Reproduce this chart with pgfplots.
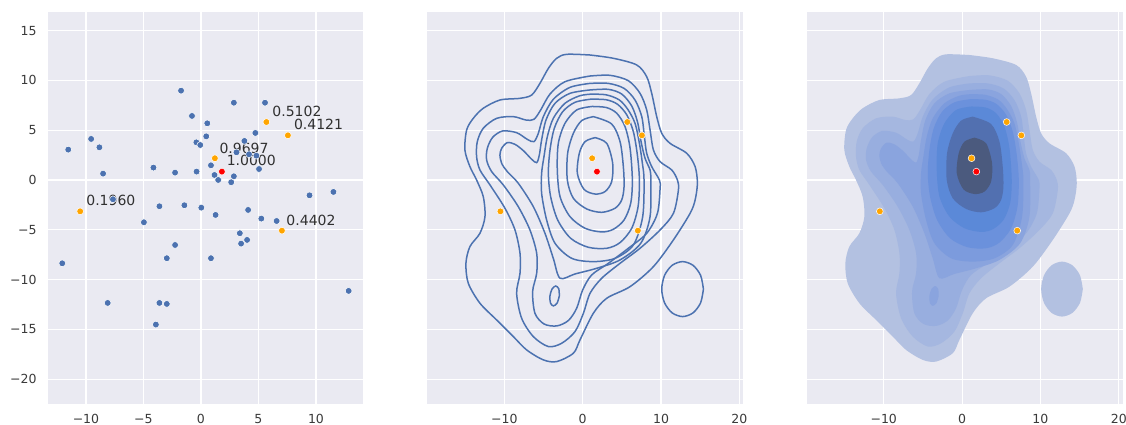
\documentclass[border=0pt]{standalone}
\usepackage{fontspec}
\setmainfont{DejaVu Sans}
\usepackage{pgfplots}
\usepackage{pgfplotstable}
\pgfplotsset{compat=1.18}
\definecolor{bg}{HTML}{EAEAF2}
\definecolor{sblue}{HTML}{4C72B0}
\definecolor{ticktext}{HTML}{3A3A3A}
\definecolor{labtext}{HTML}{303030}
\definecolor{orng}{HTML}{FFA500}
\definecolor{rd}{HTML}{FF0000}
\definecolor{Lone}{HTML}{B3C1E1}
\definecolor{Ltwo}{HTML}{A5B7E0}
\definecolor{Lthree}{HTML}{98AEDF}
\definecolor{Lfour}{HTML}{8AA4DE}
\definecolor{Lfive}{HTML}{7C9BDD}
\definecolor{Lsix}{HTML}{6B91DC}
\definecolor{Lseven}{HTML}{5B89D8}
\definecolor{Leight}{HTML}{5270B0}
\definecolor{Lnine}{HTML}{4B5A7E}

\pgfplotstableread{
x y
-1.73 8.97
2.86 7.76
5.57 7.76
-0.78 6.43
0.55 5.69
0.46 4.38
-9.55 4.12
-8.83 3.28
-11.54 3.05
-0.40 3.78
-0.06 3.51
4.73 4.72
3.78 3.92
3.09 2.78
4.18 2.58
4.82 2.44
5.05 1.10
0.87 1.47
-4.13 1.24
-8.51 0.64
-2.25 0.74
-0.38 0.84
1.18 0.50
1.50 0.00
2.86 0.37
2.63 -0.23
9.44 -1.54
11.52 -1.20
-3.61 -2.64
-1.44 -2.54
0.03 -2.78
1.27 -3.51
4.10 -3.01
5.25 -3.88
6.58 -4.12
-4.96 -4.25
3.38 -5.35
3.49 -6.39
4.01 -6.02
-2.25 -6.53
-2.97 -7.86
0.87 -7.86
-12.06 -8.37
12.84 -11.14
-8.11 -12.35
-3.61 -12.35
-2.97 -12.45
-3.92 -14.52
-7.65 -1.94
}\bluepts

\pgfplotstableread{
x y
5.69 5.82
7.56 4.48
1.21 2.18
-10.50 -3.15
7.04 -5.09
}\orangepts

\pgfplotstableread{
x y
1.82 0.84
}\redpts

% contour 1 (outermost)
\pgfplotstableread{
x y
0.94 12.55
3.92 12.22
6.90 11.55
8.17 10.37
8.81 8.70
9.45 6.36
10.09 4.69
11.15 3.68
13.28 2.68
14.35 1.34
14.64 -0.33
14.35 -2.01
13.71 -3.35
11.58 -6.02
9.03 -8.70
6.05 -10.71
3.07 -11.88
1.36 -13.39
-0.34 -16.06
-1.19 -17.40
-3.32 -18.24
-5.02 -18.07
-7.15 -17.07
-8.85 -15.73
-10.98 -14.06
-13.11 -12.38
-14.60 -10.37
-14.90 -8.37
-14.39 -6.69
-13.11 -5.35
-12.47 -3.68
-12.69 -1.67
-13.54 0.00
-14.39 1.34
-15.03 3.01
-14.81 5.02
-13.96 6.19
-12.69 7.20
-10.56 8.03
-8.00 8.20
-6.51 8.53
-5.45 9.71
-4.38 11.21
-3.32 12.22
-2.04 12.62
0.94 12.55
}\cA

\pgfplotstableread{
x y
15.41 -10.96
15.05 -9.58
14.08 -8.57
12.75 -8.20
11.42 -8.57
10.45 -9.58
10.09 -10.96
10.45 -12.34
11.42 -13.35
12.75 -13.72
14.08 -13.35
15.05 -12.34
15.41 -10.96
}\cAisland

\pgfplotstableread{
x y
0.94 10.44
3.49 10.51
5.83 9.97
7.32 8.70
8.17 7.03
8.60 5.02
9.03 3.01
9.88 1.84
11.37 1.00
12.09 0.00
12.22 -1.00
11.58 -3.35
9.88 -5.02
7.32 -6.86
4.77 -8.37
2.43 -9.87
0.94 -11.38
0.09 -13.39
-0.98 -15.23
-2.68 -16.40
-4.38 -16.73
-6.30 -15.73
-7.79 -13.89
-8.43 -11.38
-8.00 -9.37
-8.00 -7.36
-8.64 -5.02
-9.92 -2.84
-11.83 -0.50
-13.11 1.00
-13.54 2.34
-13.45 3.85
-12.69 5.19
-10.98 6.19
-8.85 6.36
-7.24 6.02
-6.22 6.09
-5.36 7.03
-4.17 8.63
-2.26 9.87
0.94 10.44
}\cB

\pgfplotstableread{
x y
0.94 9.70
3.28 9.70
5.28 9.20
6.68 8.03
7.54 6.36
7.88 4.35
8.17 2.68
8.81 1.34
9.79 0.00
9.88 -0.84
9.54 -3.35
8.17 -5.36
5.83 -6.86
3.28 -8.37
1.15 -9.54
0.00 -11.04
-0.77 -12.89
-1.83 -14.12
-3.32 -14.66
-4.94 -14.46
-6.09 -13.39
-6.39 -11.21
-5.87 -9.37
-5.87 -7.36
-6.73 -5.02
-8.22 -2.68
-10.13 -0.50
-11.62 0.84
-12.26 2.01
-12.17 3.18
-11.49 4.28
-10.22 4.92
-8.43 4.75
-7.07 4.08
-6.22 3.85
-5.66 4.69
-5.02 6.36
-3.75 8.10
-1.62 9.30
0.94 9.70
}\cC

\pgfplotstableread{
x y
0.94 9.04
3.28 9.10
4.98 8.63
6.26 7.43
7.02 5.76
7.45 3.85
7.96 2.18
8.60 1.00
8.69 0.00
8.60 -3.68
7.41 -6.36
4.77 -8.03
1.79 -8.87
-0.98 -9.44
-2.89 -9.87
-3.75 -7.87
-4.81 -5.36
-6.30 -2.68
-8.22 -0.33
-9.62 0.84
-10.34 1.67
-10.56 2.51
-10.34 3.18
-9.62 3.75
-8.64 3.58
-7.58 2.95
-6.51 2.08
-5.87 1.74
-5.53 2.51
-5.24 4.02
-4.68 6.02
-3.53 7.70
-1.62 8.70
0.94 9.04
}\cD

\pgfplotstableread{
x y
-2.98 -11.65
-3.05 -10.94
-3.43 -10.65
-3.90 -10.94
-4.18 -11.65
-4.11 -12.36
-3.73 -12.65
-3.26 -12.36
-2.98 -11.65
}\cDisland

\pgfplotstableread{
x y
1.10 8.62
3.00 8.55
4.65 8.05
5.75 7.10
6.68 5.69
7.24 3.68
7.62 1.67
7.83 0.00
7.66 -3.68
6.47 -6.53
4.13 -7.87
1.36 -8.20
-1.40 -7.87
-3.53 -6.36
-4.60 -4.02
-5.24 -1.34
-5.24 0.67
-4.94 2.34
-4.51 4.35
-3.75 6.19
-2.26 7.70
-0.40 8.45
1.10 8.62
}\cE

\pgfplotstableread{
x y
1.10 8.12
3.05 8.05
4.45 7.60
5.62 6.55
6.47 4.85
6.98 2.51
7.24 0.00
7.07 -2.68
6.26 -4.85
4.77 -6.29
3.07 -6.86
0.72 -6.76
-1.53 -5.86
-3.19 -4.02
-4.09 -1.67
-4.38 0.67
-4.17 3.01
-3.62 5.19
-2.55 6.86
-0.98 7.80
1.10 8.12
}\cF

\pgfplotstableread{
x y
1.20 7.38
3.00 7.28
4.35 6.70
5.41 5.35
6.05 3.18
6.34 0.00
6.13 -2.34
5.28 -4.02
3.92 -4.95
2.43 -5.22
0.30 -4.85
-1.62 -3.68
-2.89 -1.67
-3.24 1.00
-3.11 3.68
-2.26 5.69
-0.77 7.03
1.20 7.38
}\cG

\pgfplotstableread{
x y
1.36 6.36
3.70 5.62
4.77 3.85
5.19 1.34
5.28 -0.67
4.98 -2.01
4.13 -2.84
2.43 -3.25
0.51 -2.91
-1.19 -1.84
-1.96 0.00
-1.92 2.68
-1.19 4.69
-0.13 5.96
1.36 6.36
}\cH

\pgfplotstableread{
x y
1.58 4.25
3.07 3.68
3.83 1.67
3.70 -0.17
2.85 -1.17
1.58 -1.41
0.17 -0.94
-0.68 0.67
-0.43 2.68
0.30 3.85
1.58 4.25
}\cI

\pgfplotsset{
  sbase/.style={
    scale only axis, width=316pt, height=392pt, anchor=south west,
    axis background/.style={fill=bg},
    axis line style={draw=none},
    grid=major, major grid style={white, line width=1.1pt},
    major tick length=0pt,
    tick label style={font=\fontsize{12.5}{14}\selectfont, text=ticktext},
    xticklabel style={yshift=-6.5pt},
    yticklabel style={xshift=-8pt},
    ymin=-22.5, ymax=16.87,
    ytick={-20,-15,-10,-5,0,5,10,15},
  },
  kde/.style={
    sbase, xmin=-19.83, xmax=20.5,
    xtick={-10,0,10,20}, xticklabels={−10,0,10,20},
    yticklabels={},
  },
  pt/.style={only marks, mark=*, mark size=3.4pt, mark options={fill=#1, draw=white, line width=0.5pt}},
  cl/.style={sblue, line width=1.5pt, smooth},
  cf/.style={fill=#1, draw=none, smooth},
}

\begin{document}
\begin{tikzpicture}
\useasboundingbox (0,0) rectangle (1126pt,425pt);

% ---------------- panel 1: scatter ----------------
\begin{axis}[sbase, at={(48pt,21pt)}, width=315pt,
  xmin=-13.3, xmax=14.09,
  xtick={-10,-5,0,5,10}, xticklabels={−10,−5,0,5,10},
  yticklabels={−20,−15,−10,−5,0,5,10,15}]
\addplot[pt=sblue] table {\bluepts};
\addplot[pt=orng] table {\orangepts};
\addplot[pt=rd] table {\redpts};
\begin{scope}[every node/.style={anchor=base west, inner sep=0pt, text=labtext, font=\fontsize{14}{16}\selectfont}]
\node at (axis cs:6.2,6.36) {0.5102};
\node at (axis cs:8.08,5.02) {0.4121};
\node at (axis cs:1.6,2.68) {0.9697};
\node at (axis cs:2.23,1.41) {1.0000};
\node at (axis cs:-9.98,-2.58) {0.1960};
\node at (axis cs:7.42,-4.55) {0.4402};
\end{scope}
\end{axis}

% ---------------- panel 2: contour lines ----------------
\begin{axis}[kde, at={(427.3pt,21pt)}]
\addplot[pt=orng] table {\orangepts};
\addplot[pt=rd] table {\redpts};
\addplot[cl] table {\cA};
\addplot[cl] table {\cAisland};
\addplot[cl] table {\cB};
\addplot[cl] table {\cC};
\addplot[cl] table {\cD};
\addplot[cl] table {\cDisland};
\addplot[cl] table {\cE};
\addplot[cl] table {\cF};
\addplot[cl] table {\cG};
\addplot[cl] table {\cH};
\addplot[cl] table {\cI};
\end{axis}

% ---------------- panel 3: filled contours ----------------
\begin{axis}[kde, at={(806.7pt,21pt)}]
\addplot[cf=Lone] table {\cA};
\addplot[cf=Lone] table {\cAisland};
\addplot[cf=Ltwo] table {\cB};
\addplot[cf=Lthree] table {\cC};
\addplot[cf=Lfour] table {\cD};
\addplot[cf=Lfour] table {\cDisland};
\addplot[cf=Lfive] table {\cE};
\addplot[cf=Lsix] table {\cF};
\addplot[cf=Lseven] table {\cG};
\addplot[cf=Leight] table {\cH};
\addplot[cf=Lnine] table {\cI};
\addplot[pt=orng] table {\orangepts};
\addplot[pt=rd] table {\redpts};
\end{axis}
\end{tikzpicture}
\end{document}
